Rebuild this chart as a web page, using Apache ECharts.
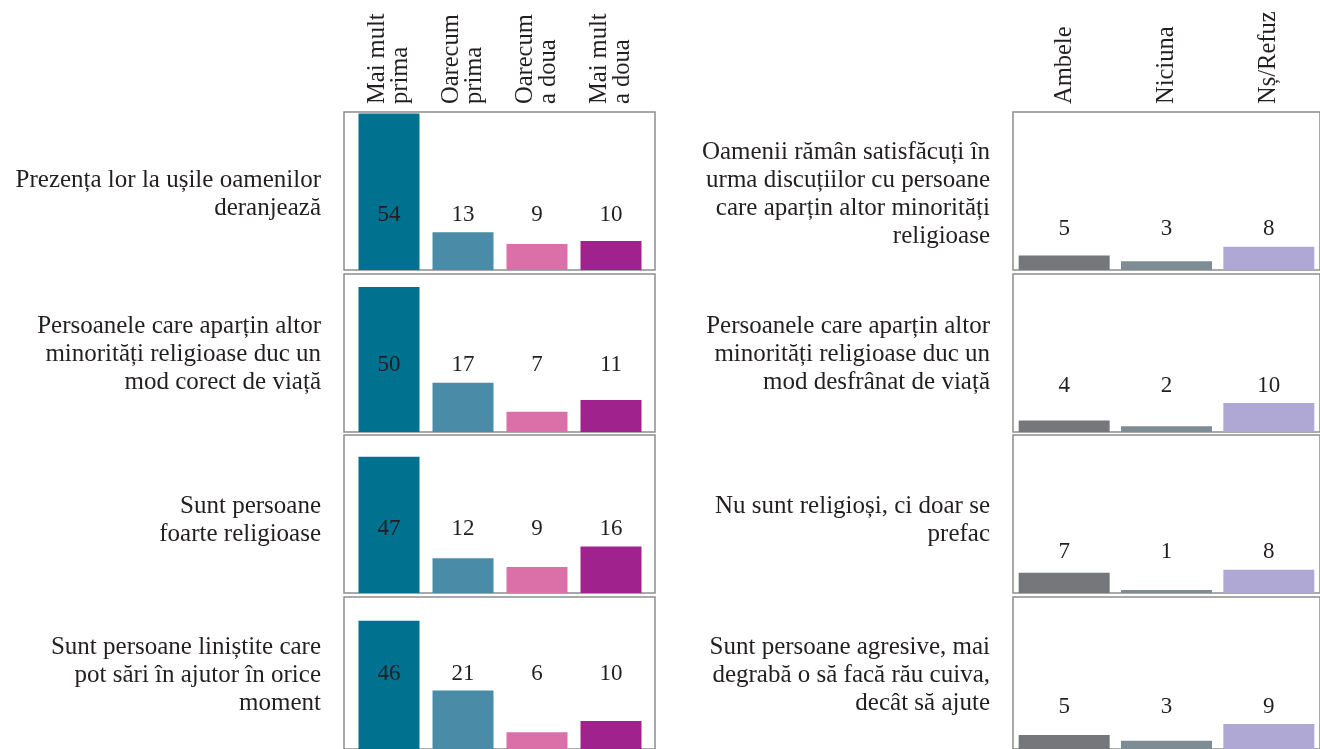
<!DOCTYPE html>
<html>
<head>
<meta charset="utf-8">
<script src="https://cdn.jsdelivr.net/npm/echarts@6/dist/echarts.min.js"></script>
<style>
html, body { margin: 0; padding: 0; background: #fff; }
#chart { width: 1320px; height: 749px; }
</style>
</head>
<body>
<div id="chart"></div>
<script>
const leftCategories = ["Mai mult\nprima", "Oarecum\nprima", "Oarecum\na doua", "Mai mult\na doua"]
const rightCategories = ["Ambele", "Niciuna", "Nș/Refuz"]

const leftStatements = [
	"Prezența lor la ușile oamenilor\nderanjează",
	"Persoanele care aparțin altor\nminorități religioase duc un\nmod corect de viață",
	"Sunt persoane\nfoarte religioase",
	"Sunt persoane liniștite care\npot sări în ajutor în orice\nmoment",
]
const rightStatements = [
	"Oamenii rămân satisfăcuți în\nurma discuțiilor cu persoane\ncare aparțin altor minorități\nreligioase",
	"Persoanele care aparțin altor\nminorități religioase duc un\nmod desfrânat de viață",
	"Nu sunt religioși, ci doar se\nprefac",
	"Sunt persoane agresive, mai\ndegrabă o să facă rău cuiva,\ndecât să ajute",
]

const leftValues = [
	[54, 13, 9, 10],
	[50, 17, 7, 11],
	[47, 12, 9, 16],
	[46, 21, 6, 10],
]
const rightValues = [
	[5, 3, 8],
	[4, 2, 10],
	[7, 1, 8],
	[5, 3, 9],
]

const leftColors = ["#00728f", "#4a8ca8", "#db6fa8", "#a0228c"]
const rightColors = ["#76777b", "#7e8c94", "#b0a8d4"]

// layout
const rowTops = [112, 274, 435, 597]
const rowHeight = 158
const textCenters = [194, 354, 520, 675]
const yMax = 54.5
const font = "Liberation Serif"
const textColor = "#231f20"

const panels = [
	{ side: "left", cats: leftCategories, values: leftValues, colors: leftColors,
		box: { left: 344, width: 311 }, data: { left: 352, width: 296 }, barWidth: 61,
		statements: leftStatements, textX: 321 },
	{ side: "right", cats: rightCategories, values: rightValues, colors: rightColors,
		box: { left: 1013, width: 330 }, data: { left: 1013, width: 309 }, barWidth: 91,
		statements: rightStatements, textX: 990 },
]

const grid = []
const xAxis = []
const yAxis = []
const series = []
const graphic = []

panels.forEach((p) => {
	p.values.forEach((vals, r) => {
		// frame around each small multiple
		const boxIdx = grid.length
		grid.push({
			left: p.box.left, width: p.box.width, top: rowTops[r], height: rowHeight,
			show: true, borderColor: "#8d8d8d", borderWidth: 1.5, backgroundColor: "transparent",
		})
		xAxis.push({ gridIndex: boxIdx, type: "value", show: false })
		yAxis.push({ gridIndex: boxIdx, type: "value", show: false })

		const idx = grid.length
		grid.push({ left: p.data.left, width: p.data.width, top: rowTops[r], height: rowHeight })
		xAxis.push({
			gridIndex: idx,
			type: "category",
			data: p.cats,
			position: "top",
			axisLine: { show: false },
			axisTick: { show: false },
			axisLabel: {
				show: r === 0,
				rotate: 90,
				margin: 8,
				interval: 0,
				fontFamily: font,
				fontSize: 24.5,
				lineHeight: 23,
				color: textColor,
			},
		})
		yAxis.push({ gridIndex: idx, type: "value", min: 0, max: yMax, show: false })

		series.push({
			type: "bar",
			xAxisIndex: idx,
			yAxisIndex: idx,
			barWidth: p.barWidth,
			silent: true,
			data: vals.map((v, i) => ({ value: v, itemStyle: { color: p.colors[i] } })),
		})

		// labels sit on one line per panel, above the small bars
		// (on the left the big first bar carries its label inside)
		const ref = p.side === "left" ? vals.slice(1) : vals
		const level = Math.max(...ref) + 6
		series.push({
			type: "scatter",
			xAxisIndex: idx,
			yAxisIndex: idx,
			symbolSize: 1,
			silent: true,
			itemStyle: { color: "#fff", opacity: 0 },
			label: {
				show: true,
				position: "inside",
				fontFamily: font,
				fontSize: 23,
				color: "#231f20",
				opacity: 1,
				textBorderWidth: 0,
				formatter: (d) => String(vals[d.dataIndex]),
			},
			data: vals.map((v, i) => [i, level]),
		})

		graphic.push({
			type: "text",
			x: p.textX,
			y: textCenters[r],
			style: {
				text: p.statements[r],
				font: `25px "${font}"`,
				fill: textColor,
				textAlign: "right",
				textVerticalAlign: "middle",
				lineHeight: 28,
			},
		})
	})
})

const chart = echarts.init(document.getElementById("chart"))
chart.setOption({
	backgroundColor: "#fff",
	animation: false,
	grid,
	xAxis,
	yAxis,
	series,
	graphic,
})
</script>
</body>
</html>
